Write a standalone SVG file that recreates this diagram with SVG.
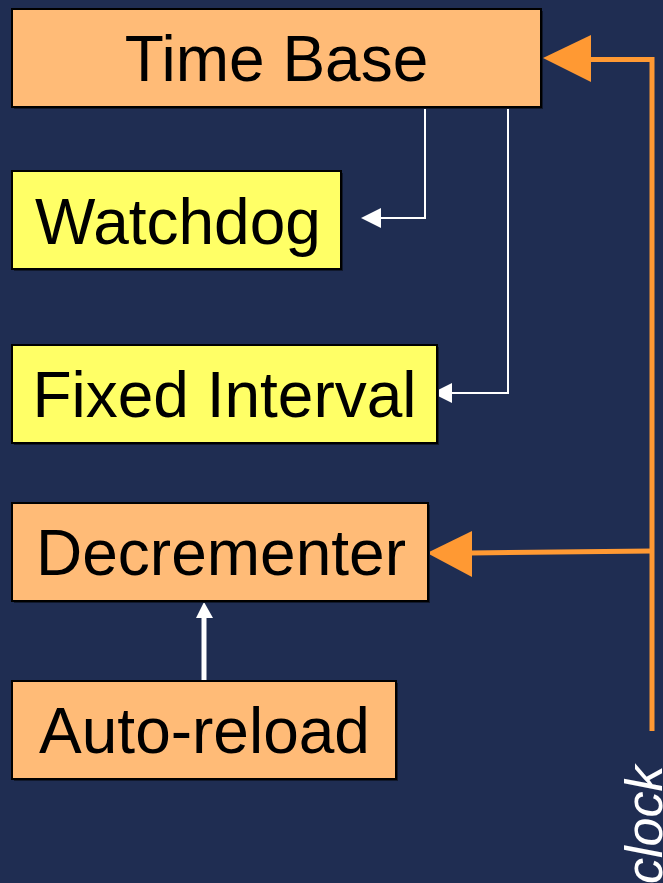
<svg xmlns="http://www.w3.org/2000/svg" width="663" height="883" viewBox="0 0 663 883">
  <style>
    .box rect.body { stroke: #000; stroke-width: 2; }
    .box rect.shadow { fill: #10182c; }
    .orange { fill: #ffbb77; }
    .yellow { fill: #ffff66; }
    .label { font-family: "Liberation Sans", Arial, sans-serif; font-size: 64px; fill: #000; text-anchor: middle; }
    .clk { stroke: #ff9933; stroke-width: 5; fill: none; }
    .wire { stroke: #fff; stroke-width: 2; fill: none; }
  </style>
  <rect width="663" height="883" fill="#1f2d52"/>

  <g id="connectors">
    <!-- clock bus -->
    <polyline class="clk" points="652,731 652,59.5 590,59.5"/>
    <polygon points="543,58 591,35 591,82" fill="#ff9933"/>
    <line class="clk" x1="652" y1="551" x2="470" y2="553"/>
    <polygon points="427,553 472,531 472,577" fill="#ff9933"/>
    <!-- time base taps -->
    <polyline class="wire" points="425,107 425,218 380,218"/>
    <polygon points="361,218 381,208 381,228" fill="#fff"/>
    <polyline class="wire" points="508,107 508,393 450,393"/>
    <polygon points="432,393 452,383 452,403" fill="#fff"/>
    <!-- auto-reload to decrementer -->
    <line x1="204" y1="681" x2="204" y2="615" stroke="#fff" stroke-width="5"/>
    <polygon points="204,602 196,618 213,618" fill="#fff"/>
  </g>

  <g id="time-base" class="box">
    <rect class="shadow" x="14" y="11" width="529" height="98"/>
    <rect class="body orange" x="12" y="9" width="529" height="98"/>
    <text class="label" x="276.5" y="81">Time Base</text>
  </g>
  <g id="watchdog" class="box">
    <rect class="shadow" x="14" y="173" width="329" height="98"/>
    <rect class="body yellow" x="12" y="171" width="329" height="98"/>
    <text class="label" x="178" y="244">Watchdog</text>
  </g>
  <g id="fixed-interval" class="box">
    <rect class="shadow" x="14" y="347" width="425" height="98"/>
    <rect class="body yellow" x="12" y="345" width="425" height="98"/>
    <text class="label" x="224.5" y="417">Fixed Interval</text>
  </g>
  <g id="decrementer" class="box">
    <rect class="shadow" x="14" y="505" width="416" height="98"/>
    <rect class="body orange" x="12" y="503" width="416" height="98"/>
    <text class="label" x="221" y="575">Decrementer</text>
  </g>
  <g id="auto-reload" class="box">
    <rect class="shadow" x="14" y="683" width="384" height="98"/>
    <rect class="body orange" x="12" y="681" width="384" height="98"/>
    <text class="label" x="204.5" y="753">Auto-reload</text>
  </g>

  <text transform="translate(662,884) rotate(-90)" font-family="Liberation Sans, Arial, sans-serif" font-style="italic" font-size="52" fill="#fff">clock</text>
</svg>
